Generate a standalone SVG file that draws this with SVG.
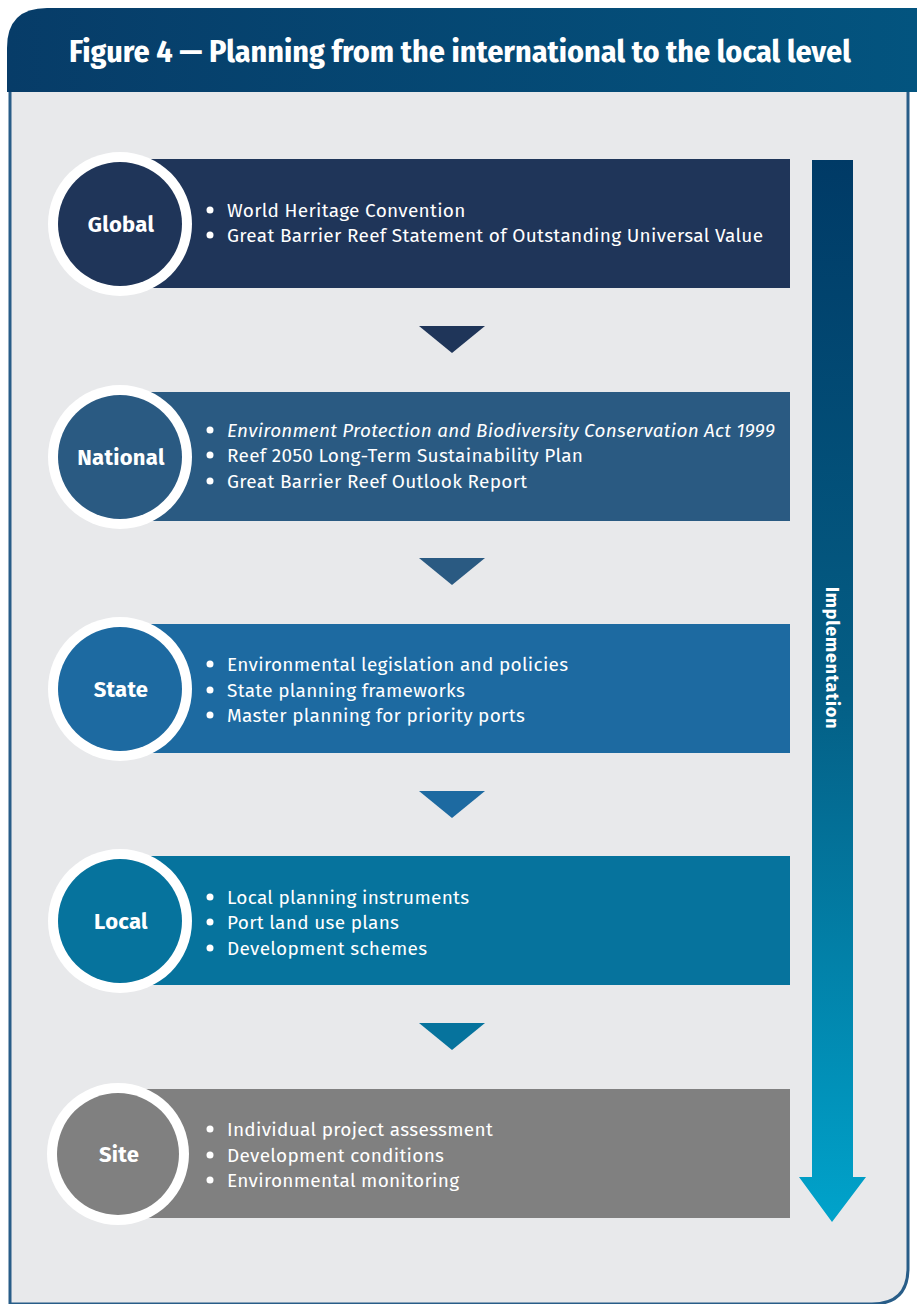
<svg xmlns="http://www.w3.org/2000/svg" width="917" height="1304" viewBox="0 0 917 1304">
<defs>
<linearGradient id="hdr" x1="0" y1="0" x2="1" y2="0">
<stop offset="0" stop-color="#073c68"/>
<stop offset="1" stop-color="#03547f"/>
</linearGradient>
<linearGradient id="impl" x1="0" y1="0" x2="0" y2="1">
<stop offset="0" stop-color="#003a66"/>
<stop offset="0.5" stop-color="#045e85"/>
<stop offset="1" stop-color="#00a3cb"/>
</linearGradient>
<style>
.ring{fill:#ffffff}
.lbl{font-family:"Fira Sans","Noto Sans","Open Sans",sans-serif;font-weight:bold;font-size:22px;letter-spacing:0.3px;fill:#ffffff;text-anchor:middle}
.item{font-family:"Fira Sans","Noto Sans","Open Sans",sans-serif;font-size:19px;letter-spacing:0.3px;fill:#ffffff}
.bul{fill:#ffffff}
</style>
</defs>
<rect x="0" y="0" width="917" height="1304" fill="#ffffff"/>
<!-- panel body -->
<path d="M10,90 L908,90 L908,1268 Q908,1304 872,1304 L10,1304 Z" fill="#e8e9eb" stroke="#285d88" stroke-width="3"/>
<!-- header -->
<path d="M7,92 L7,48 Q7,8 47,8 L917,8 L917,92 Z" fill="url(#hdr)"/>
<text x="460" y="62" text-anchor="middle" font-family="'Fira Sans Condensed', Roboto, 'Noto Sans', sans-serif" font-weight="bold" font-size="30" fill="#ffffff" textLength="782" lengthAdjust="spacingAndGlyphs">Figure 4 — Planning from the international to the local level</text>

<!-- implementation arrow -->
<g id="implementation">
<path d="M812,160 L853,160 L853,1177 L866,1177 L832,1222 L799,1177 L812,1177 Z" fill="url(#impl)"/>
<text transform="translate(826,658) rotate(90)" text-anchor="middle" font-family="'Fira Sans', 'Noto Sans', sans-serif" font-weight="bold" font-size="18" letter-spacing="0.8" fill="#ffffff">Implementation</text>
</g>

<g id="connectors">
<polygon points="419,326 485,326 452,353" fill="#1f3559"/>
<polygon points="419,558 485,558 452,585" fill="#2a5a82"/>
<polygon points="419,791 485,791 452,818" fill="#1d6aa1"/>
<polygon points="419,1023 485,1023 452,1050" fill="#06739d"/>
</g>

<g id="global">
<rect x="140" y="159" width="650" height="129" fill="#1f3559"/>
<circle cx="120" cy="224" r="72" class="ring"/>
<circle cx="120" cy="224" r="62" fill="#1f3559"/>
<text x="121" y="232" class="lbl">Global</text>
<circle cx="210" cy="210" r="3.5" class="bul"/>
<text x="227" y="217" class="item">World Heritage Convention</text>
<circle cx="210" cy="235" r="3.5" class="bul"/>
<text x="227" y="242" class="item">Great Barrier Reef Statement of Outstanding Universal Value</text>
</g>

<g id="national">
<rect x="140" y="392" width="650" height="129" fill="#2a5a82"/>
<circle cx="120" cy="457" r="72" class="ring"/>
<circle cx="120" cy="457" r="62" fill="#2a5a82"/>
<text x="121" y="465" class="lbl">National</text>
<circle cx="210" cy="430" r="3.5" class="bul"/>
<text x="227" y="437" class="item" font-style="italic" textLength="548" lengthAdjust="spacingAndGlyphs">Environment Protection and Biodiversity Conservation Act 1999</text>
<circle cx="210" cy="455" r="3.5" class="bul"/>
<text x="227" y="462" class="item">Reef 2050 Long-Term Sustainability Plan</text>
<circle cx="210" cy="481" r="3.5" class="bul"/>
<text x="227" y="488" class="item">Great Barrier Reef Outlook Report</text>
</g>

<g id="state">
<rect x="140" y="624" width="650" height="129" fill="#1d6aa1"/>
<circle cx="120" cy="689" r="72" class="ring"/>
<circle cx="120" cy="689" r="62" fill="#1d6aa1"/>
<text x="121" y="697" class="lbl">State</text>
<circle cx="210" cy="664" r="3.5" class="bul"/>
<text x="227" y="671" class="item">Environmental legislation and policies</text>
<circle cx="210" cy="690" r="3.5" class="bul"/>
<text x="227" y="697" class="item">State planning frameworks</text>
<circle cx="210" cy="715" r="3.5" class="bul"/>
<text x="227" y="722" class="item">Master planning for priority ports</text>
</g>

<g id="local">
<rect x="140" y="856" width="650" height="129" fill="#06739d"/>
<circle cx="120" cy="921" r="72" class="ring"/>
<circle cx="120" cy="921" r="62" fill="#06739d"/>
<text x="121" y="929" class="lbl">Local</text>
<circle cx="210" cy="897" r="3.5" class="bul"/>
<text x="227" y="904" class="item">Local planning instruments</text>
<circle cx="210" cy="922" r="3.5" class="bul"/>
<text x="227" y="929" class="item">Port land use plans</text>
<circle cx="210" cy="948" r="3.5" class="bul"/>
<text x="227" y="955" class="item">Development schemes</text>
</g>

<g id="site">
<rect x="140" y="1089" width="650" height="129" fill="#808080"/>
<circle cx="118" cy="1154" r="71" class="ring"/>
<circle cx="118" cy="1154" r="61" fill="#808080"/>
<text x="119" y="1162" class="lbl">Site</text>
<circle cx="210" cy="1129" r="3.5" class="bul"/>
<text x="227" y="1136" class="item">Individual project assessment</text>
<circle cx="210" cy="1155" r="3.5" class="bul"/>
<text x="227" y="1162" class="item">Development conditions</text>
<circle cx="210" cy="1180" r="3.5" class="bul"/>
<text x="227" y="1187" class="item">Environmental monitoring</text>
</g>
</svg>
